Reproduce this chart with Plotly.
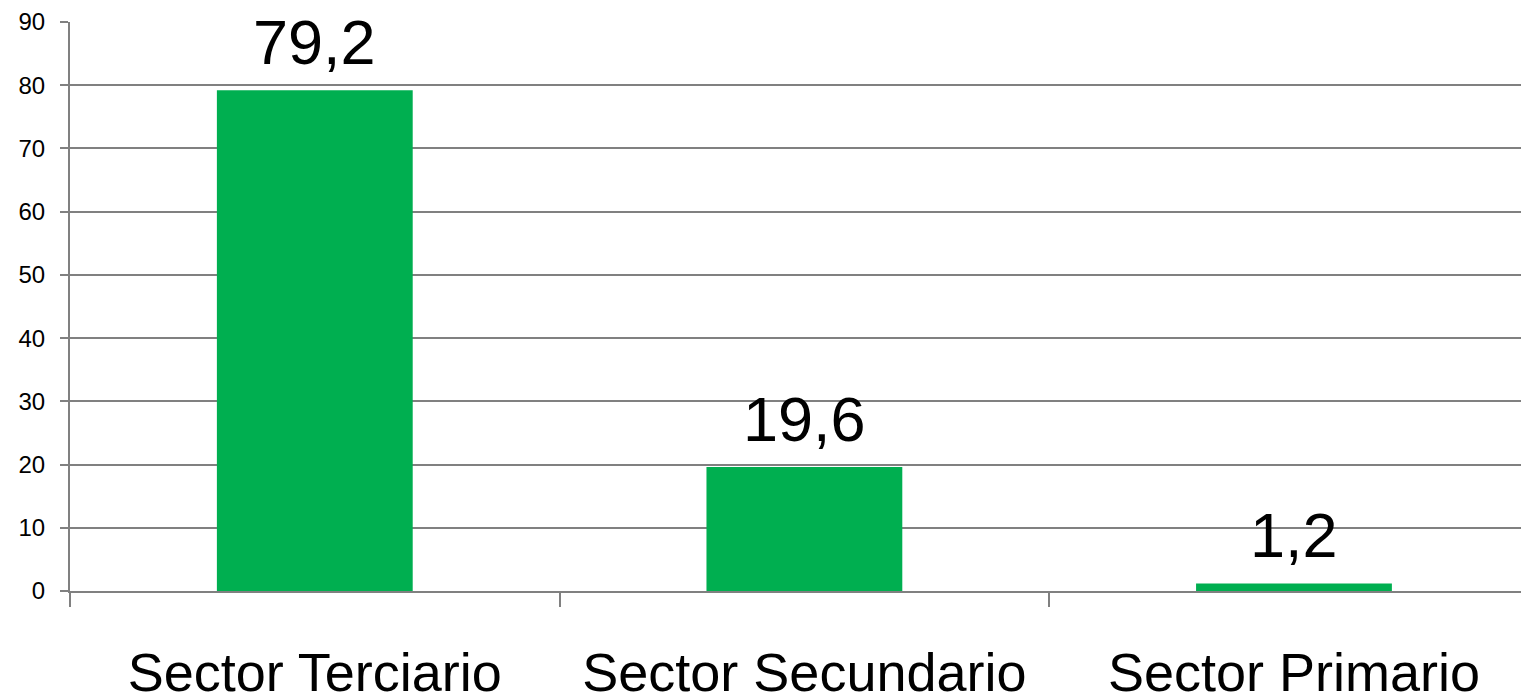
import plotly.graph_objects as go

categories = ["Sector Terciario", "Sector Secundario", "Sector Primario"]
values = [79.2, 19.6, 1.2]
value_labels = ["79,2", "19,6", "1,2"]
y_ticks = [0, 10, 20, 30, 40, 50, 60, 70, 80, 90]

GREY = "#808080"
GREEN = "#00AF50"
FONT = "Liberation Sans, Arial, sans-serif"

fig = go.Figure()
fig.add_trace(go.Bar(
    x=categories, y=values, marker=dict(color=GREEN, line=dict(width=0)),
    width=0.4, showlegend=False, hoverinfo="skip",
))

for c, v, t in zip(categories, values, value_labels):
    fig.add_annotation(x=c, y=v, text=t, showarrow=False, yanchor="bottom",
                       yshift=11, font=dict(family=FONT, size=63, color="black"))

fig.update_layout(
    width=1521, height=692,
    margin=dict(l=70, r=0, t=22, b=101),
    paper_bgcolor="white", plot_bgcolor="white",
    bargap=0.6,
    font=dict(family=FONT, color="black"),
)
fig.update_xaxes(
    type="category", range=[-0.5, 2.4637], tickson="boundaries",
    ticks="outside", ticklen=14, tickwidth=2, tickcolor=GREY,
    showline=True, linecolor=GREY, linewidth=2, automargin=False,
    showgrid=False, tickfont=dict(family=FONT, size=54, color="black"),
    ticklabelstandoff=33,
)
fig.update_yaxes(
    range=[0, 90], tickvals=y_ticks, ticks="outside", ticklen=8, tickwidth=2,
    tickcolor=GREY, showline=True, linecolor=GREY, linewidth=2, automargin=False,
    showgrid=True, gridcolor=GREY, gridwidth=2, zeroline=False,
    tickfont=dict(family=FONT, size=24, color="black"),
    ticklabelstandoff=10,
)

fig.write_html(
    "out.html",
    config={"displayModeBar": False},
    post_script="document.body.style.margin='0';document.body.style.overflow='hidden';",
)
